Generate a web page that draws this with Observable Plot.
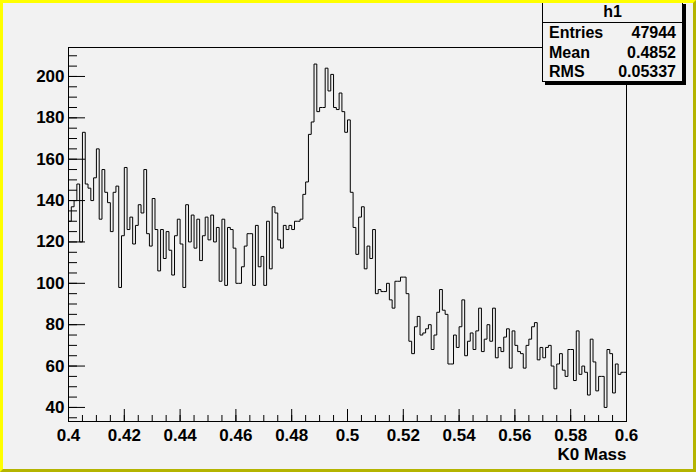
<!DOCTYPE html>
<html><head><meta charset="utf-8">
<script src="https://cdn.jsdelivr.net/npm/d3@7"></script>
<script src="https://cdn.jsdelivr.net/npm/@observablehq/plot@0.6"></script>
<style>
html,body{margin:0;padding:0;background:#f2f2f2;}
#wrap{position:relative;width:696px;height:472px;overflow:hidden;font-family:"Liberation Sans",Arial,sans-serif;font-weight:bold;}
#border{position:absolute;left:0;top:0;width:696px;height:472px;box-sizing:border-box;border:3px solid #ffff00;border-right-color:#b4b400;border-bottom-color:#b4b400;pointer-events:none;}
#stats{position:absolute;left:542px;top:1px;width:141px;height:81px;box-sizing:border-box;border:1px solid #000;background:#f2f2f2;box-shadow:3px 3px 0 #000;font-size:16px;color:#000;}
#stats .title{height:20px;line-height:20px;text-align:center;border-bottom:1px solid #000;}
#stats .row{display:flex;justify-content:space-between;height:19.5px;line-height:19.5px;padding:0 6px 0 6px;}
</style></head><body>
<div id="wrap"><div id="chart"></div><div id="stats"></div><div id="border"></div></div>
<script>
const histName = "h1";
const xTitle = "K0 Mass";
const binLow = 0.4;
const binHigh = 0.6;
const counts = [
130,137,140,148,120,173,148,146,140,151,
165,131,155,144,139,125,144,147,98,123,
156,126,132,119,128,138,134,155,124,118,
141,126,106,126,112,125,116,104,123,131,
119,98,138,120,133,117,131,111,123,132,
121,133,120,127,101,131,99,127,126,117,
100,100,108,118,124,124,99,128,108,113,
99,130,107,137,134,121,117,128,126,128,
126,130,130,131,143,149,172,178,206,183,
185,185,204,193,201,185,184,192,183,173,
179,144,127,114,132,137,107,118,112,126,
95,97,96,96,100,92,88,101,101,103,
103,95,72,66,79,84,75,76,78,80,
68,75,86,97,87,85,61,61,75,69,
79,92,65,72,76,68,77,88,67,73,
80,72,88,64,69,67,74,78,59,77,
70,67,66,59,70,73,79,81,63,69,
64,69,70,60,49,61,66,58,55,68,
68,53,77,56,60,57,46,73,62,48,
55,55,40,68,66,47,61,56,57,57
];
const statLabels = ["Entries","Mean","RMS"];
const statValues = ["47944","0.4852","0.05337"];
const xTicks = [0.4,0.42,0.44,0.46,0.48,0.5,0.52,0.54,0.56,0.58,0.6];
const yTicks = [40,60,80,100,120,140,160,180,200];
const xMinorTicks = d3.range(0,41).map(i => +(0.4 + i*0.005).toFixed(4));
const yMinorTicks = d3.range(35,215,5);

const nb = counts.length;
const bw = (binHigh - binLow) / nb;
const steps = counts.map((c,i) => ({x: binLow + i*bw, y: c}));
steps.push({x: binHigh, y: counts[nb-1]});

const chart = Plot.plot({
  width: 696, height: 472,
  marginLeft: 68, marginRight: 70, marginTop: 47, marginBottom: 51,
  x: {domain: [binLow, binHigh]},
  y: {domain: [33.2, 214]},
  style: {background: "#f2f2f2", color: "#000", fontFamily: "'Liberation Sans', Arial, sans-serif", fontSize: "17px", fontWeight: "bold"},
  marks: [
    Plot.frame({stroke: "#000"}),
    Plot.lineY(steps, {x: "x", y: "y", curve: "step-after", stroke: "#000", strokeWidth: 1}),
    Plot.axisX({ticks: xMinorTicks, tickSize: -6, fill: "none", label: null}),
    Plot.axisX({ticks: xTicks, tickSize: -12, fill: "none", label: null}),
    Plot.axisX({ticks: xTicks, tickSize: 0, tickPadding: 7, tickFormat: d => String(+d.toFixed(3)), label: null}),
    Plot.axisY({ticks: yMinorTicks, tickSize: -9, fill: "none", label: null}),
    Plot.axisY({ticks: yTicks, tickSize: -17, fill: "none", label: null}),
    Plot.axisY({ticks: yTicks, tickSize: 0, tickPadding: 4, label: null}),
    Plot.text([xTitle], {frameAnchor: "bottom-right", textAnchor: "end", dy: 38, text: d => d})
  ]
});
document.getElementById("chart").appendChild(chart);

const stats = document.getElementById("stats");
const t = document.createElement("div"); t.className = "title"; t.textContent = histName; stats.appendChild(t);
statLabels.forEach((l,i) => {
  const r = document.createElement("div"); r.className = "row";
  const a = document.createElement("span"); a.textContent = l;
  const b = document.createElement("span"); b.textContent = statValues[i];
  r.appendChild(a); r.appendChild(b); stats.appendChild(r);
});
</script>
</body></html>
